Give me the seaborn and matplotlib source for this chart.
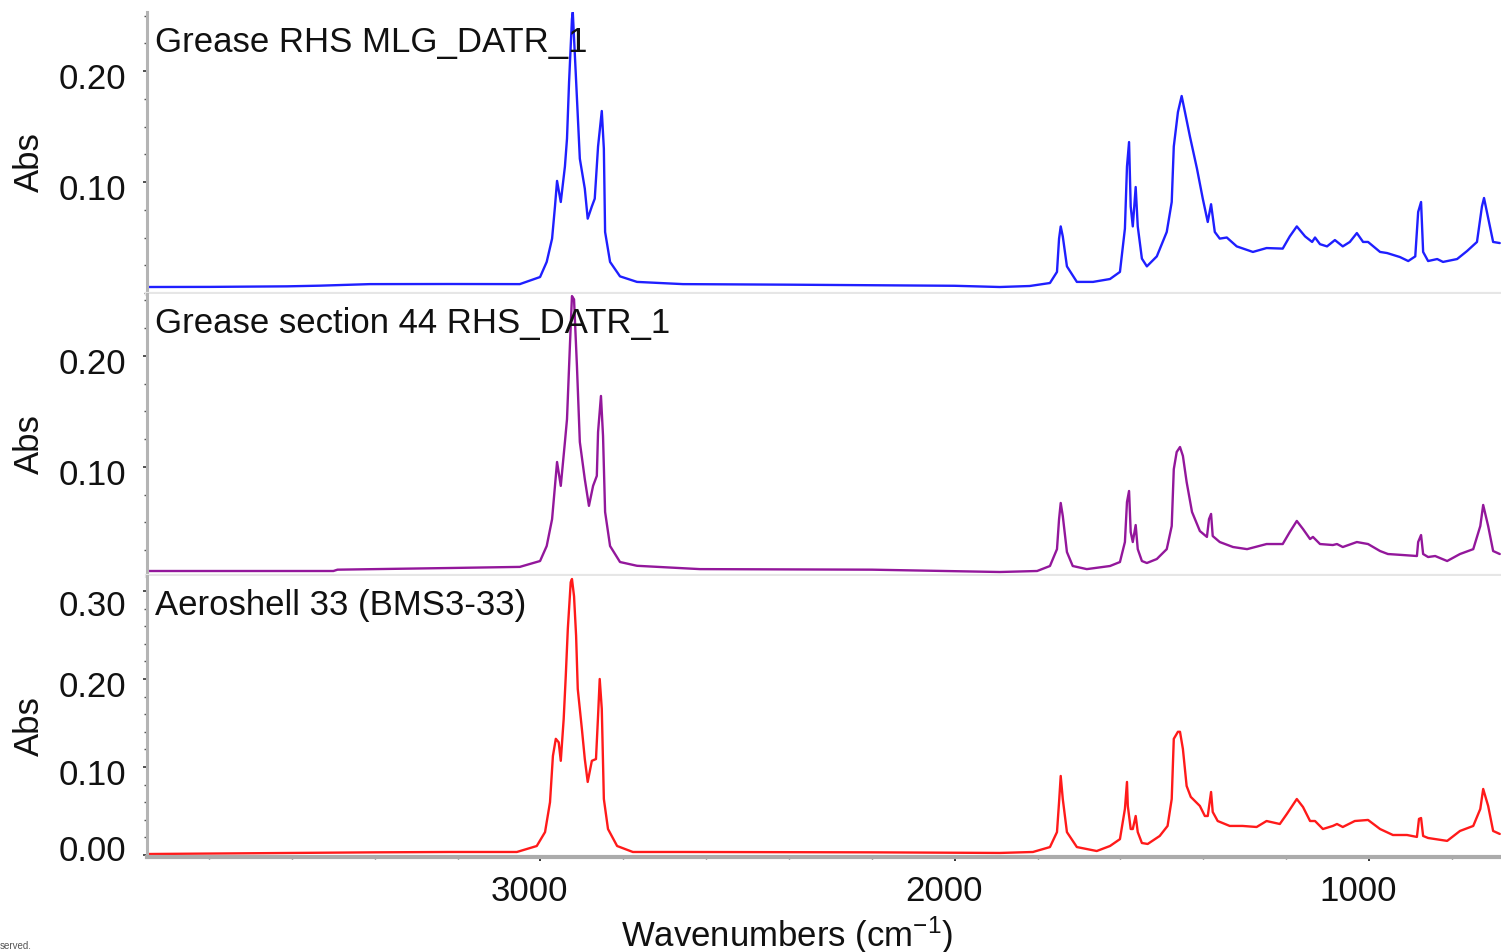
import matplotlib
matplotlib.use("Agg")
import matplotlib.pyplot as plt
import matplotlib.ticker as mticker
from matplotlib.transforms import ScaledTranslation
import seaborn as sns

# ---------------- data ----------------
titles = ["Grease RHS MLG_DATR_1", "Grease section 44 RHS_DATR_1", "Aeroshell 33 (BMS3-33)"]
colors = ["#1f1fff", "#93179b", "#ff1a1a"]

wn_blue = [3945, 3800, 3612, 3533, 3412, 3219, 3050, 3001, 2985, 2972, 2965, 2960, 2951, 2941,
           2936, 2931, 2924, 2922, 2915, 2905, 2893, 2886, 2876, 2869, 2861, 2852, 2847, 2844,
           2832, 2808, 2767, 2656, 2400, 2200, 2000, 1891, 1819, 1770, 1753, 1748, 1744, 1739,
           1729, 1705, 1666, 1625, 1601, 1589, 1584, 1579, 1575, 1570, 1563, 1558, 1548, 1536,
           1512, 1488, 1476, 1471, 1461, 1452, 1444, 1432, 1415, 1401, 1389, 1381, 1372, 1360,
           1343, 1319, 1280, 1247, 1208, 1191, 1174, 1154, 1137, 1130, 1118, 1101, 1082, 1063,
           1046, 1029, 1014, 1002, 973, 956, 925, 905, 888, 881, 874, 869, 857, 835, 821, 787,
           763, 739, 727, 722, 710, 700, 684]
abs_blue = [0.0054, 0.0055, 0.0060, 0.0066, 0.0080, 0.0081, 0.0080, 0.0144, 0.028, 0.049, 0.078,
            0.101, 0.082, 0.114, 0.139, 0.190, 0.247, 0.253, 0.199, 0.121, 0.094, 0.067, 0.078,
            0.085, 0.132, 0.164, 0.130, 0.055, 0.028, 0.015, 0.010, 0.008, 0.0075, 0.0070,
            0.0065, 0.0054, 0.0063, 0.009, 0.019, 0.049, 0.060, 0.051, 0.024, 0.010, 0.010,
            0.0126, 0.019, 0.058, 0.114, 0.136, 0.078, 0.060, 0.0955, 0.060, 0.031, 0.024,
            0.033, 0.055, 0.082, 0.132, 0.163, 0.1775, 0.163, 0.141, 0.112, 0.085, 0.064, 0.080,
            0.055, 0.049, 0.050, 0.042, 0.037, 0.0405, 0.040, 0.051, 0.060, 0.051, 0.046, 0.050,
            0.044, 0.042, 0.0477, 0.042, 0.046, 0.054, 0.046, 0.046, 0.037, 0.036, 0.0324,
            0.0288, 0.033, 0.073, 0.082, 0.037, 0.0288, 0.0306, 0.028, 0.0306, 0.0378, 0.046,
            0.078, 0.0856, 0.064, 0.046, 0.045]

wn_purple = [3945, 3500, 3490, 3219, 3050, 3001, 2985, 2972, 2965, 2960, 2951, 2941, 2936, 2929,
             2924, 2919, 2912, 2905, 2893, 2883, 2873, 2864, 2861, 2854, 2849, 2844, 2832, 2808,
             2767, 2615, 2200, 1891, 1801, 1770, 1753, 1748, 1744, 1739, 1729, 1715, 1681, 1625,
             1601, 1589, 1584, 1579, 1575, 1570, 1563, 1558, 1548, 1536, 1512, 1488, 1476, 1471,
             1464, 1456, 1449, 1440, 1427, 1408, 1391, 1386, 1381, 1377, 1360, 1328, 1294, 1247,
             1208, 1191, 1174, 1159, 1142, 1135, 1118, 1087, 1077, 1063, 1029, 1002, 973, 954,
             918, 884, 881, 874, 869, 857, 840, 811, 780, 748, 731, 724, 712, 700, 684]
abs_purple = [0.0063, 0.0063, 0.0075, 0.009, 0.010, 0.0153, 0.0288, 0.053, 0.083, 0.1045, 0.083,
              0.1225, 0.143, 0.209, 0.254, 0.251, 0.191, 0.1225, 0.089, 0.065, 0.083, 0.092,
              0.1315, 0.164, 0.128, 0.0595, 0.0288, 0.0144, 0.011, 0.008, 0.0075, 0.0054,
              0.0063, 0.0108, 0.026, 0.053, 0.0676, 0.0559, 0.0234, 0.0108, 0.008, 0.0108,
              0.0144, 0.0324, 0.0685, 0.0784, 0.0414, 0.0324, 0.0477, 0.026, 0.0153, 0.0135,
              0.0171, 0.026, 0.0468, 0.098, 0.1135, 0.118, 0.110, 0.0865, 0.0595, 0.0423, 0.037,
              0.053, 0.0577, 0.0378, 0.0324, 0.0279, 0.026, 0.0306, 0.0306, 0.0414, 0.0514,
              0.0441, 0.0351, 0.037, 0.0306, 0.0297, 0.0306, 0.0279, 0.0324, 0.0306, 0.0243,
              0.0216, 0.0207, 0.0198, 0.0324, 0.0387, 0.0216, 0.0189, 0.0198, 0.0153, 0.0216,
              0.026, 0.0468, 0.0658, 0.0468, 0.0243, 0.0216]

wn_red = [3945, 3400, 3219, 3057, 3009, 2989, 2977, 2970, 2963, 2956, 2951, 2944, 2939, 2934,
          2927, 2924, 2919, 2914, 2910, 2900, 2893, 2886, 2876, 2866, 2861, 2857, 2852, 2847,
          2837, 2815, 2777, 2656, 2200, 1891, 1811, 1770, 1753, 1748, 1744, 1739, 1729, 1705,
          1657, 1625, 1601, 1589, 1584, 1582, 1575, 1570, 1563, 1558, 1548, 1534, 1505, 1486,
          1476, 1471, 1461, 1456, 1449, 1440, 1430, 1408, 1396, 1389, 1381, 1377, 1365, 1336,
          1305, 1271, 1247, 1215, 1198, 1174, 1159, 1142, 1130, 1111, 1087, 1077, 1063, 1034,
          1002, 973, 942, 908, 884, 879, 874, 869, 857, 811, 780, 748, 731, 724, 712, 700, 684]
abs_red = [0.0011, 0.0030, 0.0034, 0.0034, 0.0102, 0.026, 0.060, 0.1125, 0.132, 0.128, 0.107,
           0.1545, 0.203, 0.257, 0.310, 0.3136, 0.294, 0.249, 0.1886, 0.143, 0.109, 0.083,
           0.107, 0.109, 0.158, 0.200, 0.166, 0.0636, 0.0295, 0.0102, 0.0034, 0.0034, 0.0030,
           0.0023, 0.0034, 0.009, 0.026, 0.060, 0.0898, 0.0636, 0.026, 0.009, 0.0045, 0.0102,
           0.018, 0.0523, 0.083, 0.0557, 0.0295, 0.0295, 0.0443, 0.026, 0.0136, 0.0125,
           0.0216, 0.033, 0.0636, 0.132, 0.140, 0.140, 0.1205, 0.0784, 0.066, 0.0557, 0.0443,
           0.0443, 0.0716, 0.0489, 0.0386, 0.033, 0.033, 0.0318, 0.0386, 0.0352, 0.0466,
           0.0636, 0.0545, 0.0386, 0.0386, 0.0295, 0.033, 0.0352, 0.0318, 0.0386, 0.0398,
           0.0295, 0.0227, 0.0227, 0.0205, 0.041, 0.042, 0.0216, 0.0193, 0.016, 0.0273, 0.033,
           0.0523, 0.075, 0.0557, 0.0273, 0.0239]

x_ticks = [3000, 2000, 1000]
y_ticks_top = [0.10, 0.20]
y_ticks_bottom = [0.00, 0.10, 0.20, 0.30]

# ---------------- style ----------------
sns.set_theme(style="white")
plt.rcParams["font.family"] = ["Liberation Sans", "DejaVu Sans"]
plt.rcParams["mathtext.default"] = "regular"

W, H = 1501, 953
fig = plt.figure(figsize=(W / 100, H / 100), dpi=100)
fig.patch.set_facecolor("white")

left_px, right_px = 147, 1501
panels = [(13, 294.5, (-0.00045, 0.2532), y_ticks_top, 0.025),
          (294.5, 576.5, (0.00225, 0.2563), y_ticks_top, 0.025),
          (576.5, 858, (-0.0023, 0.3176), y_ticks_bottom, 0.02)]
series = [(wn_blue, abs_blue), (wn_purple, abs_purple), (wn_red, abs_red)]

axes = []
for i, ((top, bot, ylim, yt, ymin), (wn, ab)) in enumerate(zip(panels, series)):
    ax = fig.add_axes([left_px / W, 1 - bot / H, (right_px - left_px) / W, (bot - top) / H])
    ax.set_facecolor("white")
    sns.lineplot(x=wn, y=ab, ax=ax, color=colors[i], lw=1.7, sort=False,
                 estimator=None, legend=False)
    ax.set_xlim(3950, 681)
    ax.set_ylim(*ylim)
    ax.yaxis.set_major_locator(mticker.FixedLocator(yt))
    ax.yaxis.set_minor_locator(mticker.MultipleLocator(ymin))
    ax.yaxis.set_major_formatter(mticker.FormatStrFormatter("%.2f"))
    ax.xaxis.set_major_locator(mticker.FixedLocator(x_ticks))
    ax.xaxis.set_minor_locator(mticker.MultipleLocator(200))
    for s in ["top", "right"]:
        ax.spines[s].set_visible(False)
    ax.spines["left"].set_color("#b4b4b4")
    ax.spines["left"].set_linewidth(2.2)
    ax.tick_params(axis="y", which="major", direction="out", length=3, width=1.2,
                   color="#333333", labelsize=25, pad=12, labelcolor="#111111", left=True)
    ax.tick_params(axis="y", which="minor", direction="out", length=2, width=1.0,
                   color="#555555", left=True)
    if i < 2:
        ax.spines["bottom"].set_color("#e6e6e6")
        ax.spines["bottom"].set_linewidth(3.0)
        ax.tick_params(axis="x", which="both", bottom=False, labelbottom=False)
    else:
        ax.spines["bottom"].set_color("#ababab")
        ax.spines["bottom"].set_linewidth(3.0)
        ax.tick_params(axis="x", which="major", direction="out", length=3, width=1.4,
                       color="#333333", labelsize=25, pad=9, labelcolor="#111111", bottom=True)
        ax.tick_params(axis="x", which="minor", direction="out", length=1.5, width=1.0,
                       color="#555555", bottom=True)
    ax.set_xlabel("")
    ax.set_ylabel("Abs", fontsize=25, color="#111111")
    ax.yaxis.set_label_coords(-(147 - 29) / (right_px - left_px), 0.47)
    ax.yaxis.label.set_verticalalignment("center")
    ax.annotate(titles[i], xy=(0, 1), xycoords="axes fraction", xytext=(8, -39),
                textcoords="offset pixels", ha="left", va="baseline", fontsize=25,
                color="#111111")
    axes.append(ax)

ax3 = axes[2]
ax3.set_xlabel("Wavenumbers (cm$^{-1}$)", fontsize=25, color="#111111")
ax3.xaxis.set_label_coords((787 - left_px) / (right_px - left_px), -(914 - 858) / (858 - 576.5))

fig.text(0.0, 1 - 946 / H, "served.", fontsize=7, color="#555555", va="center", ha="left")

# nudge tick labels the way the reference software places them
fig.canvas.draw()
for k, ax in enumerate(axes):
    for lab in ax.yaxis.get_majorticklabels():
        txt = lab.get_text()
        dy = -4
        if k == 2 and txt == "0.30":
            dy = -11
        elif k == 2 and txt == "0.00":
            dy = 8
        lab.set_transform(lab.get_transform() + ScaledTranslation(0, dy / 100, fig.dpi_scale_trans))
for lab in ax3.xaxis.get_majorticklabels():
    lab.set_transform(lab.get_transform() + ScaledTranslation(-11 / 100, 0, fig.dpi_scale_trans))

fig.savefig("out.png", dpi=100, facecolor="white")
